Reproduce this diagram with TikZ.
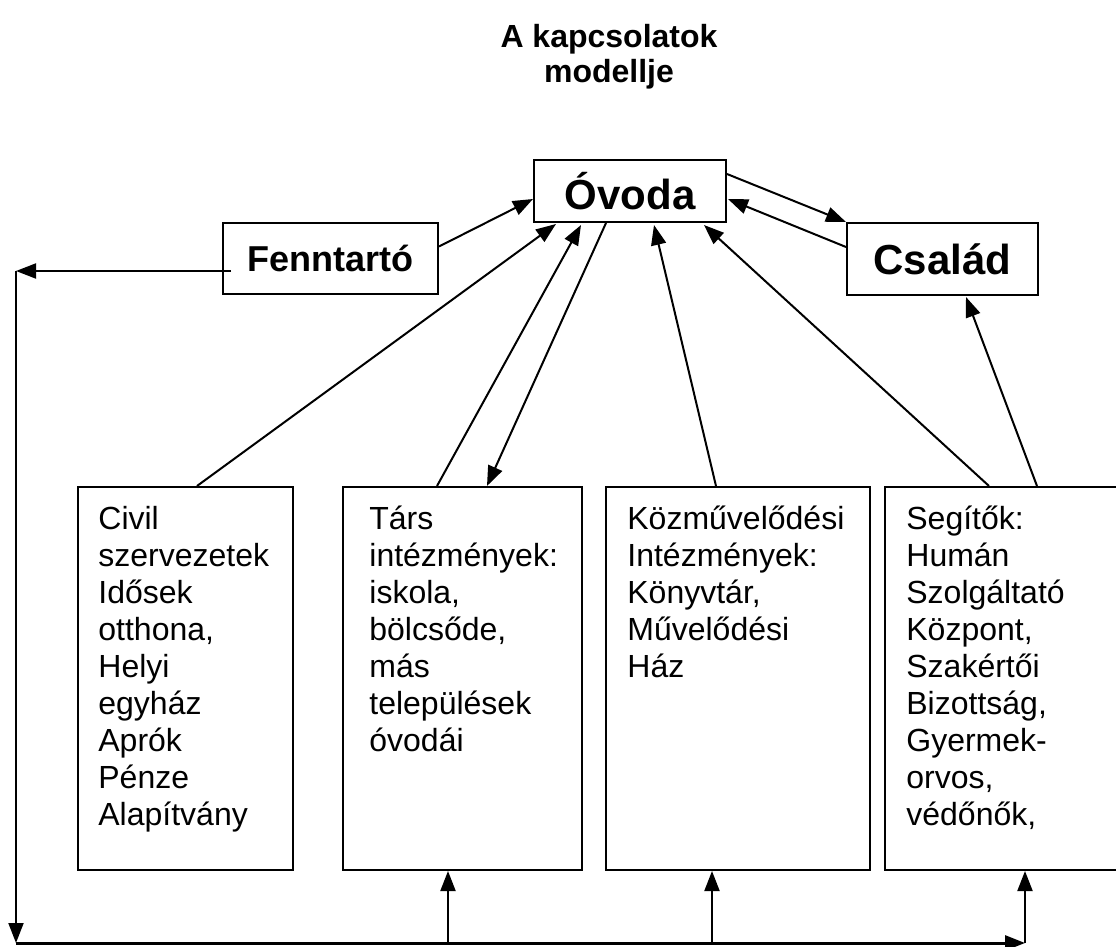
\documentclass[tikz,border=0pt]{standalone}
\usepackage{fontspec}
\setmainfont{Liberation Sans}
\usepackage{xcolor}
\usepackage{tikz}
\usetikzlibrary{calc,arrows.meta}
\definecolor{ink}{HTML}{000000}
\tikzset{
  link/.style={-{Triangle[length=10pt,width=7.5pt]}, draw=ink, line width=1pt},
  bus/.style={-{Triangle[length=10pt,width=7.5pt]}, draw=ink, line width=1.5pt},
  topbox/.style={draw=ink, line width=1pt, inner sep=0pt, font=\bfseries\fontsize{21}{24}\selectfont},
  sidebox/.style={draw=ink, line width=1pt, inner sep=0pt, font=\bfseries\fontsize{18}{21}\selectfont},
  lowbox/.style={draw=ink, line width=1pt, inner sep=0pt, minimum height=191.5pt},
  lowtext/.style={anchor=north west, inner sep=0pt, align=left, font=\fontsize{16}{18.5}\selectfont},
  headline/.style={align=center, font=\bfseries\fontsize{16}{17.5}\selectfont}
}

\begin{document}
\begin{tikzpicture}[x=0.5pt, y=-0.5pt]
  \useasboundingbox (0,0) rectangle (1116,947);

  \node[headline] (title) at (609,57) {A kapcsolatok\\modellje};

  % upper row
  \node[topbox, minimum width=96pt, minimum height=31pt] (ovoda) at (630,191) {Óvoda};
  \node[sidebox, minimum width=107.5pt, minimum height=35.5pt] (fenn) at (330.5,258.5) {Fenntartó};
  \node[topbox, minimum width=95.5pt, minimum height=36pt] (csalad) at (942.5,259) {Család};

  % lower row
  \node[lowbox, minimum width=107.5pt] (civil) at (185.5,678.5) {};
  \node[lowbox, minimum width=119.5pt] (tars) at (462.5,678.5) {};
  \node[lowbox, minimum width=132pt] (kozm) at (738,678.5) {};
  \node[lowbox, minimum width=120pt] (segito) at (1005,678.5) {};

  \node[lowtext] (civiltxt) at ($(civil.north west)+(21,20)$)
    {Civil\\szervezetek\\Idősek\\otthona,\\Helyi\\egyház\\Aprók\\Pénze\\Alapítvány};
  \node[lowtext] (tarstxt) at ($(tars.north west)+(27,20)$)
    {Társ\\intézmények:\\iskola,\\bölcsőde,\\más\\települések\\óvodái};
  \node[lowtext] (kozmtxt) at ($(kozm.north west)+(22,20)$)
    {Közművelődési\\Intézmények:\\Könyvtár,\\Művelődési\\Ház};
  \node[lowtext] (segitotxt) at ($(segito.north west)+(22,20)$)
    {Segítők:\\Humán\\Szolgáltató\\Központ,\\Szakértői\\Bizottság,\\Gyermek-\\orvos,\\védőnők,};

  % links to the kindergarten
  \draw[link] ($(fenn.east)+(0,-12)$) -- ($(ovoda.west)+(0,8)$);
  \draw[link] ($(civil.north west)+(120,0)$) -- ($(ovoda.south west)+(23,1)$);
  \draw[link] ($(tars.north west)+(95,0)$) -- ($(ovoda.south west)+(48,2)$);
  \draw[link] ($(ovoda.south west)+(73,0)$) -- ($(tars.north west)+(145,0)$);
  \draw[link] ($(kozm.north west)+(111,0)$) -- ($(ovoda.south west)+(121,2)$);
  \draw[link] ($(segito.north west)+(105,0)$) -- ($(ovoda.south west)+(171,2)$);
  \draw[link] ($(segito.north west)+(153,0)$) -- ($(csalad.south west)+(120,1)$);
  \draw[link] ($(ovoda.north east)+(0,15)$) -- (csalad.north west);
  \draw[link] ($(csalad.west)+(0,-12)$) -- ($(ovoda.east)+(1,8)$);

  % outer loop
  \coordinate (ltop) at (16,271);
  \coordinate (lbot) at (16,943);
  \coordinate (rbot) at (1025,943);
  \coordinate (b2) at (448,943);
  \coordinate (b3) at (712,943);
  \draw[link] ($(fenn.west)+(9,12.5)$) -- (ltop);
  \draw[link] (ltop) -- (lbot);
  \draw[bus] (lbot) -- (rbot);
  \draw[link] (rbot) -- (rbot |- segito.south);
  \draw[link] (b2) -- (b2 |- tars.south);
  \draw[link] (b3) -- (b3 |- kozm.south);
\end{tikzpicture}
\end{document}
